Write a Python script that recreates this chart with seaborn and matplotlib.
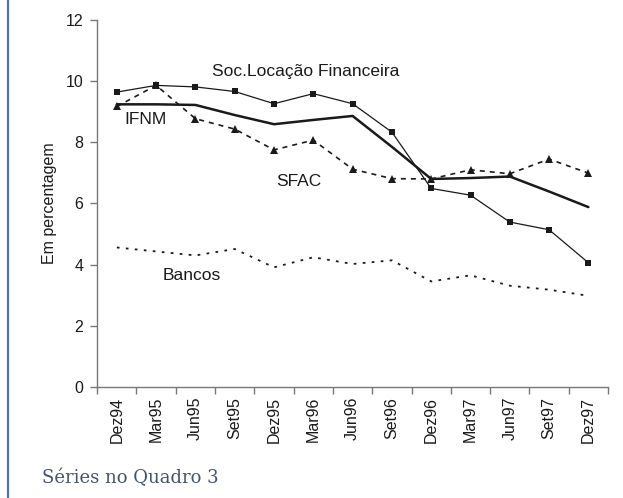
import matplotlib

matplotlib.use("Agg")
import matplotlib.pyplot as plt
import numpy as np
import pandas as pd
import seaborn as sns
from matplotlib.lines import Line2D

periods = [
    "Dez94", "Mar95", "Jun95", "Set95", "Dez95", "Mar96", "Jun96",
    "Set96", "Dez96", "Mar97", "Jun97", "Set97", "Dez97",
]
soc_locacao = [9.64, 9.86, 9.81, 9.66, 9.26, 9.59, 9.26, 8.33, 6.49, 6.27, 5.39, 5.14, 4.06]
ifnm = [9.24, 9.24, 9.22, 8.89, 8.59, 8.73, 8.86, 7.85, 6.80, 6.83, 6.88, 6.39, 5.88]
sfac = [9.17, 9.86, 8.77, 8.43, 7.75, 8.07, 7.12, 6.81, 6.80, 7.10, 6.97, 7.45, 6.99]
bancos = [4.56, 4.43, 4.30, 4.51, 3.91, 4.24, 4.02, 4.14, 3.45, 3.65, 3.31, 3.18, 2.98]

sns.set_theme(style="ticks")
plt.rcParams["font.family"] = ["Liberation Sans", "DejaVu Sans"]

df = pd.DataFrame({
    "pos": np.arange(len(periods)),
    "Soc.Locação Financeira": soc_locacao,
    "IFNM": ifnm,
    "SFAC": sfac,
    "Bancos": bancos,
})

fig = plt.figure(figsize=(6.23, 4.98), dpi=100)
ax = fig.add_axes([0.156, 0.223, 0.82, 0.737])

ink = "#1a1a1a"
sns.lineplot(data=df, x="pos", y="Bancos", ax=ax, color=ink, lw=1.3,
             linestyle=(0, (1.5, 3.5)))
sns.lineplot(data=df, x="pos", y="SFAC", ax=ax, color=ink, lw=1.2,
             linestyle=(0, (3, 3)), marker="^", markersize=5.5,
             markeredgewidth=0, markerfacecolor=ink)
sns.lineplot(data=df, x="pos", y="IFNM", ax=ax, color=ink, lw=1.8)
sns.lineplot(data=df, x="pos", y="Soc.Locação Financeira", ax=ax, color=ink,
             lw=0.9, marker="s", markersize=4.5, markeredgewidth=0,
             markerfacecolor=ink)

ax.set_xlim(-0.5, len(periods) - 0.5)
ax.set_ylim(0, 12)
ax.set_yticks(range(0, 13, 2))
ax.set_xticks(np.arange(-0.5, len(periods), 1.0))
ax.set_xticklabels([])
ax.set_xticks(np.arange(len(periods)), minor=True)
ax.set_xticklabels(periods, minor=True, rotation=90, fontsize=11.5, color=ink)
ax.tick_params(axis="x", which="minor", length=0, pad=7)
ax.tick_params(axis="x", which="major", length=5, color="#777777", width=1)
ax.tick_params(axis="y", length=5, color="#777777", width=1,
               labelsize=11.5, labelcolor=ink, pad=5)
ax.set_xlabel("")
ax.set_ylabel("Em percentagem", fontsize=11.5, color=ink, labelpad=6)
sns.despine(ax=ax)
for side in ("left", "bottom"):
    ax.spines[side].set_color("#777777")
    ax.spines[side].set_linewidth(1)

txt = dict(fontsize=12.5, color=ink, va="center", ha="left")
ax.text(2.41, 10.3, "Soc.Locação Financeira", **txt)
ax.text(0.18, 8.76, "IFNM", **txt)
ax.text(4.06, 6.73, "SFAC", **txt)
ax.text(1.17, 3.66, "Bancos", **txt)

fig.text(0.067, 0.03, "Séries no Quadro 3", fontsize=13, color="#46556a",
         family="DejaVu Serif", ha="left", va="baseline")
fig.add_artist(Line2D([0.013, 0.013], [0, 1], transform=fig.transFigure,
                      color="#4f74b5", lw=1.6))

fig.savefig("out.png", dpi=100)
